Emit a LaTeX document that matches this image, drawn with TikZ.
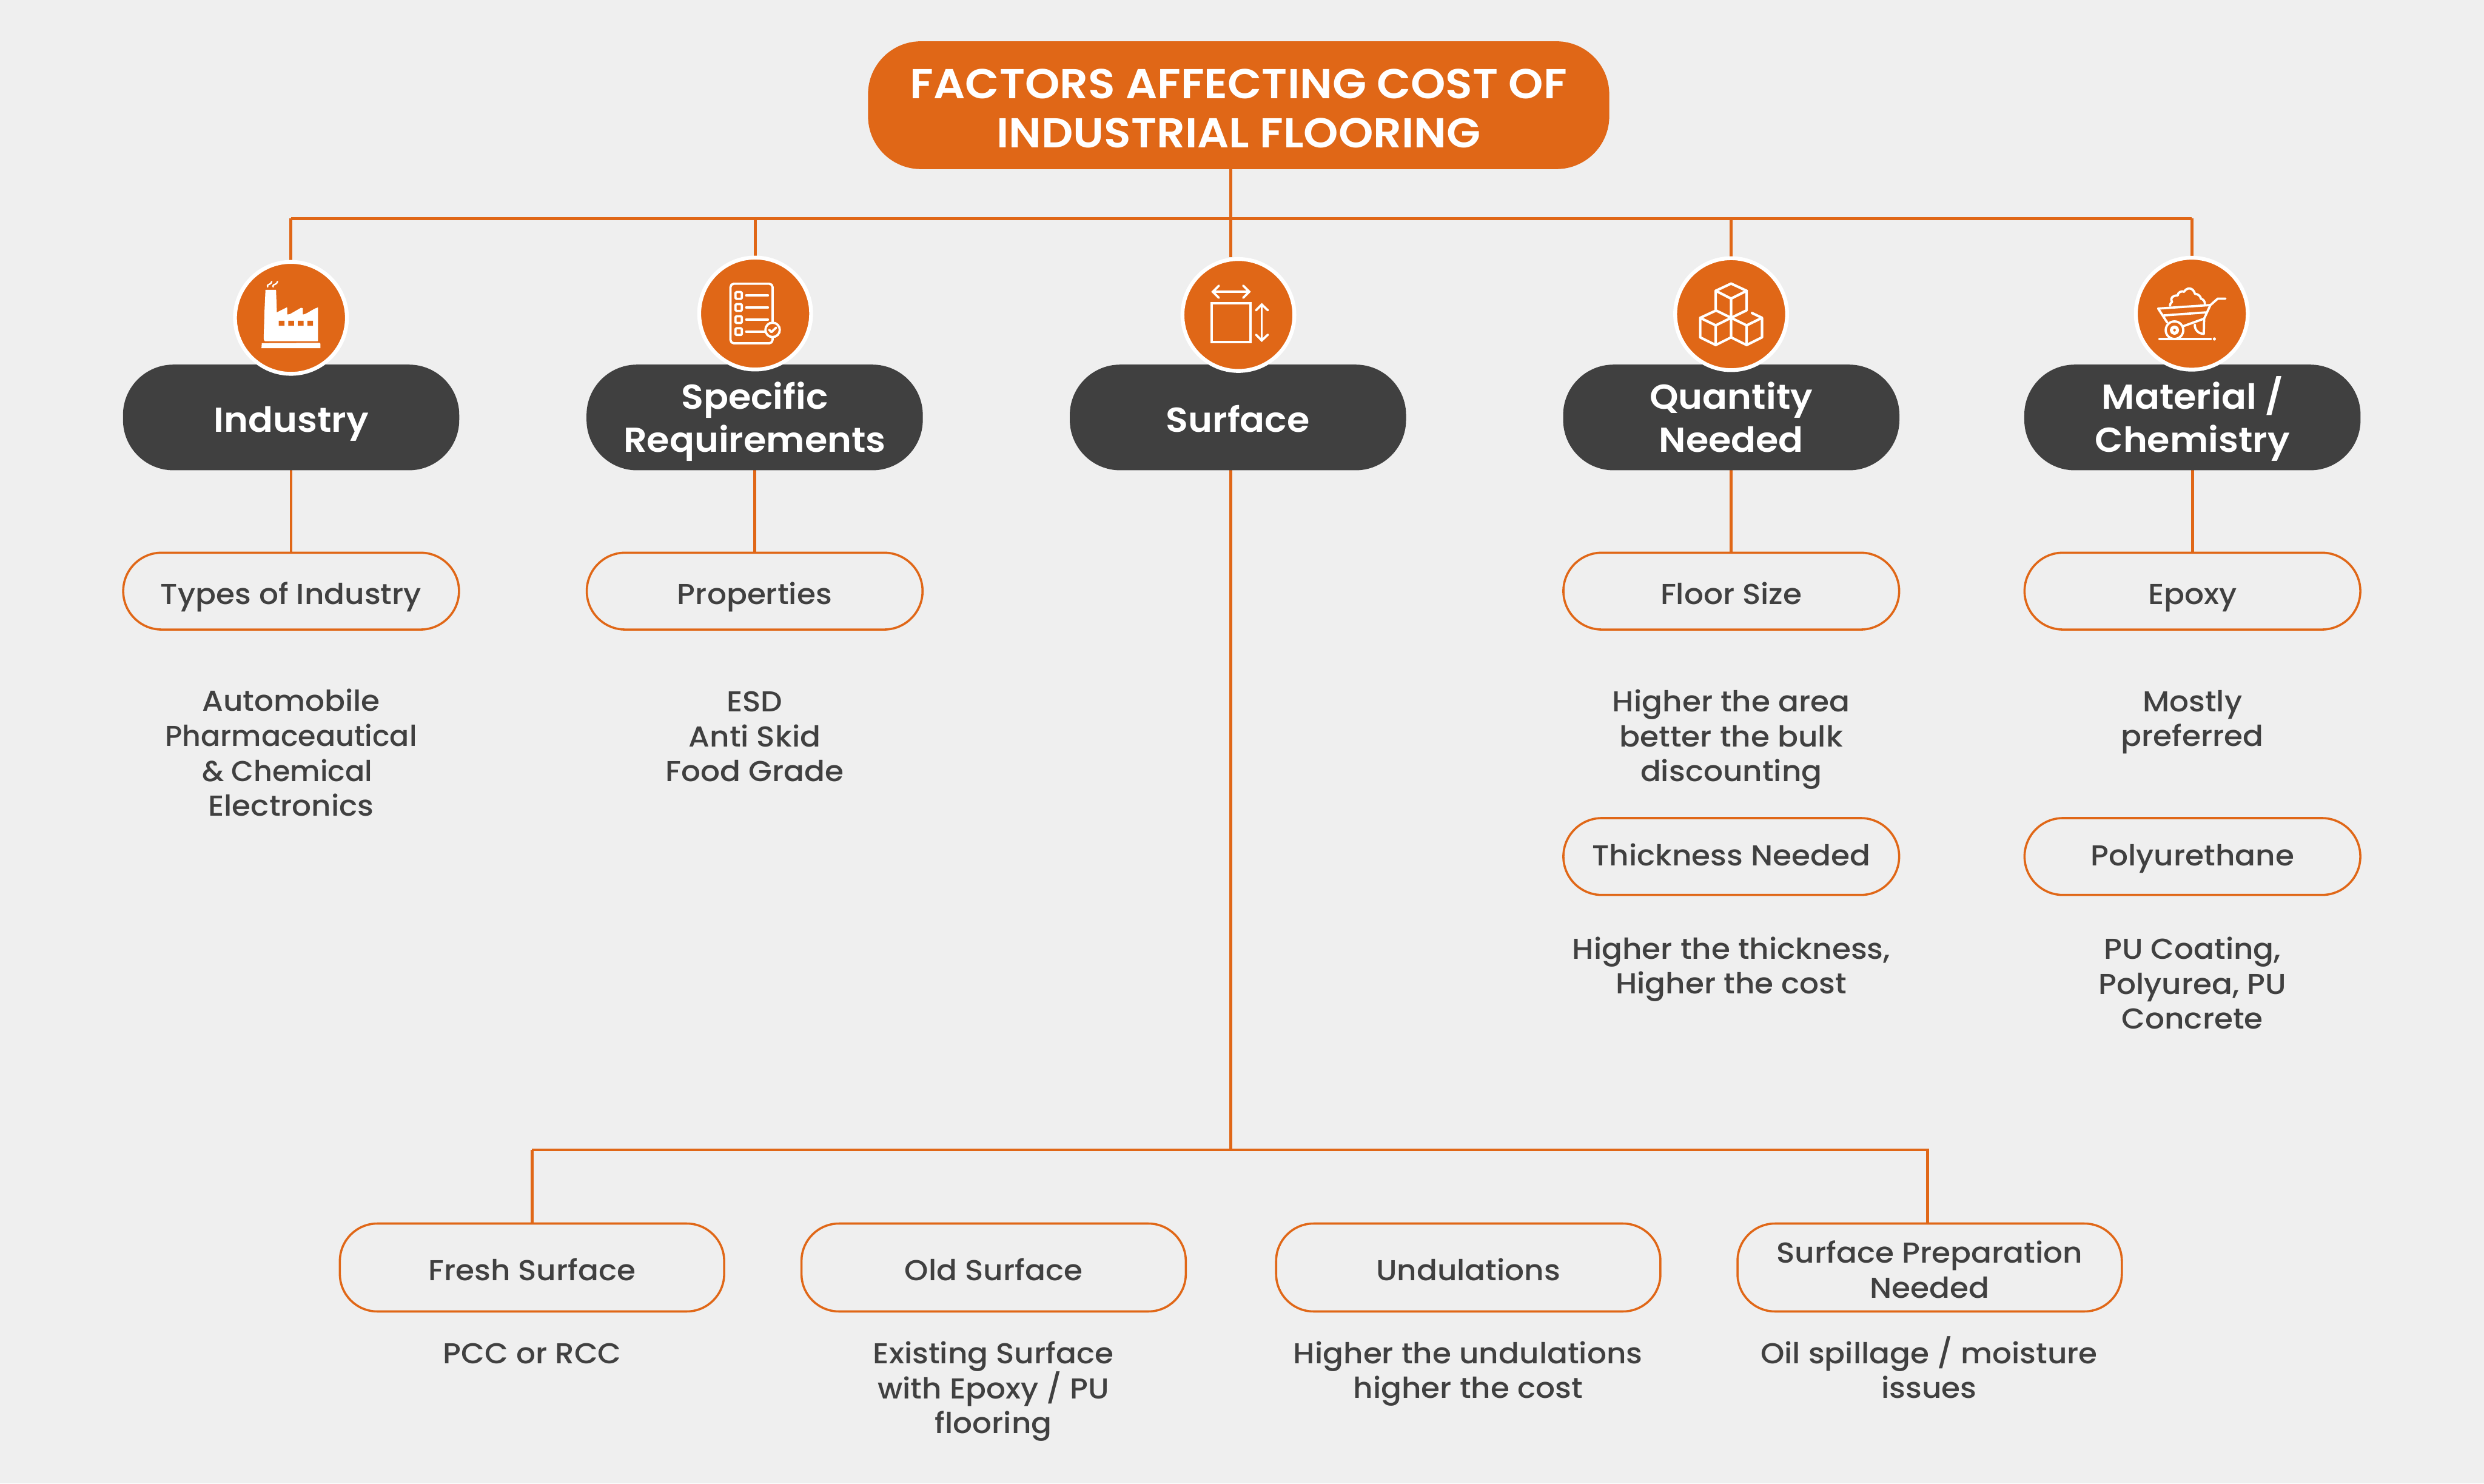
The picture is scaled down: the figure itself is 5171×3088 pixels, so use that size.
\documentclass[tikz,border=0pt]{standalone}
\usepackage{fontspec}
\setmainfont{Poppins Medium}[FakeStretch=1.055]
\newfontfamily\headf{Poppins SemiBold}[FakeStretch=1.06]
\usetikzlibrary{backgrounds,calc}
\definecolor{orng}{HTML}{E06717}
\definecolor{dark}{HTML}{404040}
\definecolor{paper}{HTML}{EFEFEF}
\newcommand\lns[2]{\raisebox{#1pt}[0pt][0pt]{\begin{tabular}[b]{@{}c@{}}#2\end{tabular}}}
\newcommand\sla{\smash{/}}
\tikzset{
 pill/.style={rounded corners=#1,inner sep=0pt,outer sep=0pt},
 titlebox/.style={pill=110pt,fill=orng,text=white,minimum width=1543pt,minimum height=266pt,font=\headf\fontsize{87}{103}\selectfont},
 darkbox/.style={pill=105pt,fill=dark,text=white,minimum width=700pt,minimum height=220pt,font=\headf\fontsize{72}{89.5}\selectfont},
 linebox/.style={pill=80pt,draw=orng,line width=4.5pt,fill=paper,text=dark,minimum width=699pt,minimum height=160pt,font=\fontsize{60}{72.8}\selectfont},
 lowbox/.style={pill=78pt,draw=orng,line width=4.5pt,fill=paper,text=dark,minimum width=800pt,minimum height=183pt,font=\fontsize{60}{72.8}\selectfont},
 desc/.style={inner sep=0pt,outer sep=0pt,text=dark,font=\fontsize{60}{72.8}\selectfont},
 badge/.style={circle,fill=orng,draw=white,line width=8pt,minimum size=233pt,inner sep=0pt,outer sep=4pt},
 conn/.style={draw=orng,line width=6pt},
 iconline/.style={draw=white,line width=#1,line cap=round,line join=round,fill=none},
 icon/.style={x=0.3333pt,y=-0.3333pt}
}
\begin{document}
\begin{tikzpicture}[x=1pt,y=-1pt]
\useasboundingbox (0,0) rectangle (5171,3088);
% main nodes
\node[titlebox] (title) at (2578.5,219) {\lns{-89}{FACTORS AFFECTING COST OF\\INDUSTRIAL FLOORING}};
\node[darkbox] (ind) at (606,869) {\lns{-30}{Industry}};
\node[darkbox] (spc) at (1571,869) {\lns{-72.5}{Specific\\Requirements}};
\node[darkbox] (sur) at (2577,869) {\lns{-30}{Surface}};
\node[darkbox] (qty) at (3604,869) {\lns{-72.5}{Quantity\\Needed}};
\node[darkbox] (mat) at (4564,869) {\lns{-72.5}{Material \sla\\Chemistry}};
\node[badge] (bind) at (605.7,661.7) {};
\node[badge] (bspc) at (1572,652.7) {};
\node[badge] (bsur) at (2578,655.7) {};
\node[badge] (bqty) at (3603.7,654) {};
\node[badge] (bmat) at (4562.7,653) {};
% first row
\node[linebox] (toi) at (606,1230.5) {\lns{-28}{Types of Industry}};
\node[linebox] (pro) at (1571,1230.5) {\lns{-28}{Properties}};
\node[linebox] (flo) at (3604,1230.5) {\lns{-28}{Floor Size}};
\node[linebox] (epo) at (4564,1230.5) {\lns{-28}{Epoxy}};
\node[linebox] (thi) at (3604,1783) {\lns{-19}{Thickness Needed}};
\node[linebox] (pol) at (4564,1783) {\lns{-19}{Polyurethane}};
% lower row
\node[lowbox] (fre) at (1107.5,2638.5) {\lns{-27.5}{Fresh Surface}};
\node[lowbox] (old) at (2068.5,2638.5) {\lns{-27.5}{Old Surface}};
\node[lowbox] (und) at (3056.5,2638.5) {\lns{-27.5}{Undulations}};
\node[lowbox] (spn) at (4017,2638.5) {\lns{-63.5}{Surface Preparation\\Needed}};
% free descriptions (placed at last baseline)
\node[desc] (d1) at (606,1699) {\lns{0}{Automobile\\\scalebox{0.947}[1]{Pharmaceautical}\\\hspace*{-16pt}\scalebox{0.95}[1]{\& Chemical}\\Electronics}};
\node[desc] (d2) at (1571,1627) {\lns{0}{ESD\\Anti Skid\\Food Grade}};
\node[desc] (d3) at (3604,1627) {\lns{0}{Higher the area\\better the bulk\\discounting}};
\node[desc] (d4) at (4564,1554) {\lns{0}{Mostly\\preferred}};
\node[desc] (d5) at (3604,2069) {\lns{0}{Higher the thickness,\\Higher the cost}};
\node[desc] (d6) at (4564,2142) {\lns{0}{PU Coating,\\Polyurea, PU\\Concrete}};
\node[desc] (d7) at (1108,2838) {\lns{0}{PCC or RCC}};
\node[desc] (d8) at (2068,2984) {\lns{0}{Existing Surface\\with Epoxy \sla{} PU\\flooring}};
\node[desc] (d9) at (3056,2911) {\lns{0}{Higher the undulations\\higher the cost}};
\node[desc] (d10) at (4016,2911) {\lns{0}{Oil spillage \sla{} moisture\\issues}};
% connectors
\coordinate (top) at (2562,455);
\coordinate (low) at (2562,2393.5);
\begin{pgfonlayer}{background}
\fill[paper] (0,0) rectangle (5171,3088);
\draw[conn] (top |- title.south) -- (top);
\draw[conn] (bind.north |- top) -- (bmat.north |- top);
\draw[conn] (bind.north |- top) -- (bind.north);
\draw[conn] (bspc.north |- top) -- (bspc.north);
\draw[conn] (top) -- (top |- bsur.north);
\draw[conn] (bqty.north |- top) -- (bqty.north);
\draw[conn] (bmat.north |- top) -- (bmat.north);
\draw[conn] (ind.south) -- (toi.north);
\draw[conn] (spc.south) -- (pro.north);
\draw[conn] (qty.south) -- (flo.north);
\draw[conn] (mat.south) -- (epo.north);
\draw[conn] (low |- sur.south) -- (low);
\draw[conn] (fre.north |- low) -- (4013,2393.5) -- (4013,2545);
\draw[conn] (fre.north |- low) -- (fre.north);
\end{pgfonlayer}
% factory icon
\begin{scope}[shift={(400,480)},icon]
\fill[white] (458,370) -- (524,370) -- (529,511) -- (590,480) -- (594,482) -- (594,524) -- (610,522) -- (680,482) -- (691,485) -- (691,524) .. controls (715,524) and (750,490) .. (786,480) -- (786,688) -- (783,691) -- (455,691) .. controls (447,690) and (447,680) .. (447,665) -- (452,500) -- cycle;
\fill[orng] (541,563) rectangle (577,594) (600,563) rectangle (636,594) (660,563) rectangle (696,594) (720,563) rectangle (755,594);
\fill[white] (435,703) -- (795,701) -- (801,706) -- (801,734) -- (433,734) -- cycle;
\draw[iconline=3pt] (472,352) .. controls (465,338) and (478,338) .. (487,333) .. controls (492,330) and (495,325) .. (497,318);
\draw[iconline=3pt] (506,352) .. controls (500,338) and (515,338) .. (523,333) .. controls (528,330) and (531,325) .. (533,318);
\end{scope}
% checklist icon
\begin{scope}[shift={(1370,480)},icon]
\draw[iconline=4.7pt,rounded corners=7pt,line cap=butt] (715,575) -- (715,332) -- (452,332) -- (452,704) -- (715,704) -- (715,668);
\foreach \yy in {405,480.5,556,631}{
 \draw[iconline=4.7pt,rounded corners=2pt] (483,\yy-21) rectangle (523,\yy+21);
}
\foreach \yy in {405,480.5,556}{\draw[iconline=4.7pt] (550,\yy) -- (686,\yy);}
\draw[iconline=4.7pt] (550,631) -- (665,631);
\draw[iconline=4.7pt] (715,620) circle[radius=15pt];
\draw[iconline=4.7pt] (694,620) -- (708,634) -- (737,606);
\end{scope}
% surface icon
\begin{scope}[shift={(2400,480)},icon]
\draw[iconline=5pt,line join=miter] (367.5,452.5) rectangle (609.5,694.5);
\draw[iconline=4pt,line cap=butt] (380,382) -- (600,382);
\draw[iconline=4.7pt,line join=miter] (412,344) -- (374,382) -- (412,420);
\draw[iconline=4.7pt,line join=miter] (564,344) -- (602,382) -- (564,420);
\draw[iconline=4pt,line cap=butt] (680,465) -- (680,685);
\draw[iconline=4.7pt,line join=miter] (644,498) -- (680,462) -- (718,498);
\draw[iconline=4.7pt,line join=miter] (644,650) -- (680,686) -- (718,650);
\end{scope}
% cubes icon
\begin{scope}[shift={(3400,480)},icon]
\draw[iconline=5.2pt] (611,331) -- (708,376) -- (708,498) -- (611,545) -- (515,498) -- (515,376) -- cycle;
\draw[iconline=5.2pt] (515,376) -- (611,425) -- (708,376) (611,425) -- (611,667);
\draw[iconline=5.2pt] (515,500) -- (418,545) -- (515,592) -- (611,545) (418,545) -- (418,667) -- (515,715) -- (611,667) (515,592) -- (515,715);
\draw[iconline=5.2pt] (611,545) -- (708,592) -- (804,545) -- (742,515) (804,545) -- (804,667) -- (708,715) -- (611,667) (708,592) -- (708,715);
\end{scope}
% wheelbarrow icon
\begin{scope}[shift={(4360,480)},icon]
\draw[iconline=4.7pt] (455,575) -- (398,487) -- (725,465) -- (770,425) -- (818,425);
\draw[iconline=4.7pt] (722,470) -- (685,550) -- (555,597);
\draw[iconline=4.7pt] (432,530) -- (695,511);
\draw[iconline=4.7pt] (500,622) circle[radius=18.3pt];
\draw[iconline=6.5pt] (500,622) circle[radius=6.5pt];
\draw[iconline=4.7pt] (685,552) -- (683,645) .. controls (650,645) and (625,620) .. (627,587);
\draw[iconline=6pt] (408,677) -- (725,677);
\fill[white] (749,677) circle[radius=3.3pt];
\draw[iconline=4.7pt] (472,470) .. controls (472,455) and (480,450) .. (485,445) .. controls (470,420) and (490,405) .. (520,405) .. controls (520,385) and (545,375) .. (560,382) .. controls (575,355) and (615,350) .. (628,395) .. controls (650,395) and (665,415) .. (665,425) .. controls (680,430) and (690,440) .. (690,460);
\end{scope}
\end{tikzpicture}
\end{document}
